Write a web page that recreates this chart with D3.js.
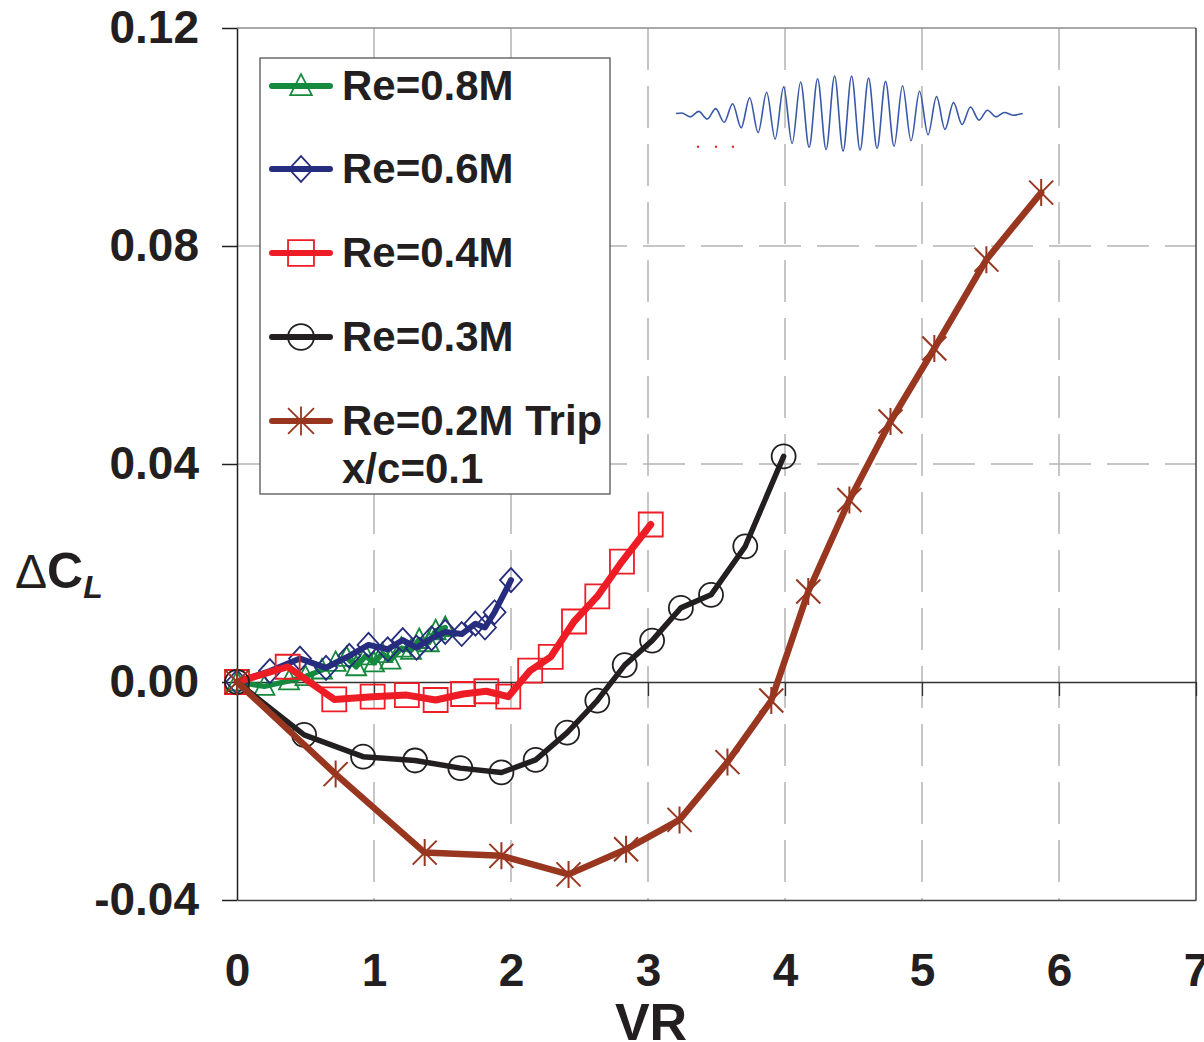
<!DOCTYPE html>
<html>
<head>
<meta charset="utf-8">
<script src="https://cdn.jsdelivr.net/npm/d3@7"></script>
<style>
  body { margin: 0; background: #fff; }
  text { font-family: "Liberation Sans", Arial, sans-serif; font-weight: bold; fill: #231f20; }
</style>
</head>
<body>
<div id="chart"></div>
<script>
// axis ticks
var xTicks = [0, 1, 2, 3, 4, 5, 6, 7];
var yTicks = [-0.04, 0, 0.04, 0.08, 0.12];
var yTickLabels = ["-0.04", "0.00", "0.04", "0.08", "0.12"];
var xGrid = [1, 2, 3, 4, 5, 6];
var yGrid = [0.04, 0.08];

// Re=0.8M
var re08VR = [0, 0.2, 0.38, 0.5, 0.62, 0.72, 0.8, 0.87, 0.94, 1.0, 1.06, 1.12, 1.2, 1.27, 1.33, 1.4, 1.45, 1.52];
var re08CL = [0, -0.0008, 0.0002, 0.001, 0.0022, 0.0036, 0.0045, 0.0028, 0.0048, 0.0035, 0.0052, 0.0040, 0.0062, 0.0058, 0.0078, 0.0072, 0.0094, 0.0100];
// Re=0.6M
var re06VR = [0, 0.24, 0.46, 0.65, 0.82, 0.96, 1.1, 1.21, 1.31, 1.42, 1.52, 1.64, 1.74, 1.81, 1.88, 2.0];
var re06CL = [0, 0.0020, 0.0043, 0.0026, 0.0048, 0.0068, 0.0060, 0.0077, 0.0063, 0.0080, 0.0092, 0.0088, 0.0107, 0.0100, 0.0128, 0.0187];
// Re=0.4M
var re04VR = [0, 0.37, 0.71, 0.99, 1.24, 1.45, 1.65, 1.82, 1.98, 2.14, 2.29, 2.46, 2.63, 2.81, 3.02];
var re04CL = [0, 0.0028, -0.0032, -0.0027, -0.0024, -0.0033, -0.0022, -0.0017, -0.0027, 0.0021, 0.0046, 0.0111, 0.0157, 0.0221, 0.0289];
// Re=0.3M
var re03VR = [0, 0.49, 0.92, 1.30, 1.63, 1.93, 2.18, 2.41, 2.63, 2.83, 3.03, 3.24, 3.46, 3.71, 3.99];
var re03CL = [0, -0.0097, -0.0137, -0.0144, -0.0158, -0.0166, -0.0143, -0.0093, -0.0034, 0.0031, 0.0076, 0.0136, 0.0160, 0.0249, 0.0414];
// Re=0.2M Trip x/c=0.1
var re02VR = [0, 0.72, 1.37, 1.93, 2.42, 2.84, 3.23, 3.58, 3.90, 4.17, 4.47, 4.77, 5.09, 5.47, 5.87];
var re02CL = [0, -0.0169, -0.0313, -0.0319, -0.0353, -0.0307, -0.0253, -0.0147, -0.0034, 0.0166, 0.0334, 0.0478, 0.0612, 0.0775, 0.0898];

// inset wave: extremes
var waveCenter = 0.1043;
var waveStartVR = 3.204;
var waveFirstVR = 3.246;
var waveHalfVR = 0.062;
var waveEndVR = 5.735;
var waveAmp = [0.0001, -0.0006, 0.0004, -0.0010, 0.0009, -0.0016, 0.0018, -0.0026, 0.0029, -0.0035,
               0.0039, -0.0047, 0.0049, -0.0055, 0.0058, -0.0062, 0.0064, -0.0066, 0.0069, -0.0069,
               0.0069, -0.0067, 0.0065, -0.0064, 0.0059, -0.0060, 0.0051, -0.0050, 0.0041, -0.0039,
               0.0031, -0.0029, 0.0020, -0.0020, 0.0012, -0.0012, 0.0006, -0.0006, 0.0002, -0.0003];
var dotVR = [3.365, 3.496, 3.62];
var dotCL = [0.0982, 0.0982, 0.0982];

var series = [
  { name: "Re=0.8M", vr: re08VR, cl: re08CL, color: "#15893d", marker: "triangle", width: 5.5 },
  { name: "Re=0.6M", vr: re06VR, cl: re06CL, color: "#262c7e", marker: "diamond", width: 6 },
  { name: "Re=0.4M", vr: re04VR, cl: re04CL, color: "#ee1c25", marker: "square", width: 7 },
  { name: "Re=0.3M", vr: re03VR, cl: re03CL, color: "#231f20", marker: "circle", width: 5.5 },
  { name: "Re=0.2M Trip", vr: re02VR, cl: re02CL, color: "#983620", marker: "star", width: 6.5 }
];

var width = 1204, height = 1042;
var svg = d3.select("#chart").append("svg")
    .attr("width", width)
    .attr("height", height)
    .style("display", "block");

var x = d3.scaleLinear().domain([0, 7]).range([237, 1196]);
var y = d3.scaleLinear().domain([-0.04, 0.12]).range([900, 28]);

// grid
svg.append("g").selectAll("line").data(xGrid).enter().append("line")
    .attr("x1", d => x(d)).attr("x2", d => x(d))
    .attr("y1", y(0.12)).attr("y2", y(-0.04))
    .attr("stroke", "#b4b4b4").attr("stroke-width", 1.5)
    .attr("stroke-dasharray", "42,16");
svg.append("g").selectAll("line").data(yGrid).enter().append("line")
    .attr("x1", x(0)).attr("x2", x(7))
    .attr("y1", d => y(d)).attr("y2", d => y(d))
    .attr("stroke", "#b4b4b4").attr("stroke-width", 1.5)
    .attr("stroke-dasharray", "42,16");

// frame top / right
svg.append("line").attr("x1", x(0)).attr("x2", x(7)).attr("y1", y(0.12)).attr("y2", y(0.12))
    .attr("stroke", "#8c8c8c").attr("stroke-width", 1.5);
svg.append("line").attr("x1", x(7)).attr("x2", x(7)).attr("y1", y(0.12)).attr("y2", y(-0.04))
    .attr("stroke", "#444").attr("stroke-width", 1.5);

// x axis along zero (ticks only)
var zeroAxis = svg.append("g").attr("transform", "translate(0," + y(0) + ")")
    .call(d3.axisBottom(x).tickValues(xTicks).tickSize(14).tickSizeOuter(0).tickFormat(""));
zeroAxis.selectAll("path, line").attr("stroke", "#333").attr("stroke-width", 1.3);

// bottom axis with labels
var bottomAxis = svg.append("g").attr("transform", "translate(0," + y(-0.04) + ")")
    .call(d3.axisBottom(x).tickValues(xTicks).tickSize(0).tickPadding(53).tickFormat(d3.format("d")));
bottomAxis.select("path").attr("stroke", "#444").attr("stroke-width", 1.5);
bottomAxis.selectAll("text").attr("font-size", 46).attr("font-family", null).style("fill", "#231f20");

// left axis
var leftAxis = svg.append("g").attr("transform", "translate(" + x(0) + ",0)")
    .call(d3.axisLeft(y).tickValues(yTicks).tickSize(15).tickSizeOuter(0).tickPadding(23)
      .tickFormat((d, i) => yTickLabels[i]));
leftAxis.selectAll("path, line").attr("stroke", "#231f20").attr("stroke-width", 1.5);
leftAxis.selectAll("text").attr("font-size", 46).attr("font-family", null).style("fill", "#231f20");

// axis titles
svg.append("text").attr("x", 651).attr("y", 1040).attr("text-anchor", "middle")
    .attr("font-size", 52).text("VR");
var yt = svg.append("text").attr("x", 15).attr("y", 588);
yt.append("tspan").attr("font-size", 48).attr("font-weight", "normal").text("\u0394");
yt.append("tspan").attr("font-size", 50).text("C");
yt.append("tspan").attr("font-size", 32).attr("font-style", "italic").attr("dy", 10).text("L");

// inset wave
var wavePts = [[waveStartVR, waveCenter]];
waveAmp.forEach(function (a, i) { wavePts.push([waveFirstVR + i * waveHalfVR, waveCenter + a]); });
wavePts.push([waveEndVR, waveCenter]);
svg.append("path").datum(wavePts)
    .attr("d", d3.line().x(d => x(d[0])).y(d => y(d[1])).curve(d3.curveMonotoneX))
    .attr("fill", "none").attr("stroke", "#3a58a8").attr("stroke-width", 1.6);
svg.append("g").selectAll("circle").data(dotVR).enter().append("circle")
    .attr("cx", d => x(d)).attr("cy", (d, i) => y(dotCL[i])).attr("r", 1.2).attr("fill", "#e8262b");

// markers
function markerPath(type, s) {
  s = s || 1;
  if (type === "triangle") return "M0," + (-11 * s) + "L" + (10 * s) + "," + (8.5 * s) + "L" + (-10 * s) + "," + (8.5 * s) + "Z";
  if (type === "diamond") return "M0," + (-12 * s) + "L" + (11 * s) + ",0L0," + (12 * s) + "L" + (-11 * s) + ",0Z";
  if (type === "square") return "M" + (-12 * s) + "," + (-12 * s) + "h" + (24 * s) + "v" + (24 * s) + "h" + (-24 * s) + "Z";
  if (type === "circle") { var r = 12 * s; return "M" + r + ",0A" + r + "," + r + " 0 1,1 " + (-r) + ",0A" + r + "," + r + " 0 1,1 " + r + ",0Z"; }
  // asterisk: X plus vertical
  var a = 12 * s;
  return "M" + (-a) + "," + (-a) + "L" + a + "," + a + "M" + a + "," + (-a) + "L" + (-a) + "," + a +
         "M0," + (-13.5 * s) + "L0," + (13.5 * s);
}

var line = d3.line().x(d => x(d[0])).y(d => y(d[1]));

series.forEach(function (s) {
  var pts = s.vr.map((v, i) => [v, s.cl[i]]);
  var g = svg.append("g");
  g.append("path").datum(pts).attr("d", line)
      .attr("fill", "none").attr("stroke", s.color).attr("stroke-width", s.width)
      .attr("stroke-linejoin", "round").attr("stroke-linecap", "round");
  g.selectAll("path.m").data(pts).enter().append("path").attr("class", "m")
      .attr("transform", d => "translate(" + x(d[0]) + "," + y(d[1]) + ")")
      .attr("d", markerPath(s.marker))
      .attr("fill", "none").attr("stroke", s.color).attr("stroke-width", s.marker === "star" ? 2 : 1.8);
});

// legend
var leg = svg.append("g");
leg.append("rect").attr("x", 260).attr("y", 58).attr("width", 350).attr("height", 436)
    .attr("fill", "#fff").attr("stroke", "#555").attr("stroke-width", 1.3);
var legY = [86, 169, 253, 337, 421];
series.forEach(function (s, i) {
  var gy = legY[i];
  leg.append("line").attr("x1", 272).attr("x2", 330).attr("y1", gy).attr("y2", gy)
      .attr("stroke", s.color).attr("stroke-width", 6).attr("stroke-linecap", "round");
  leg.append("path").attr("transform", "translate(301," + gy + ")")
      .attr("d", markerPath(s.marker, 1.08))
      .attr("fill", "none").attr("stroke", s.color).attr("stroke-width", 1.8);
  leg.append("text").attr("x", 342).attr("y", gy + 14).attr("font-size", 42).text(s.name);
});
leg.append("text").attr("x", 342).attr("y", 483).attr("font-size", 42).text("x/c=0.1");
</script>
</body>
</html>
